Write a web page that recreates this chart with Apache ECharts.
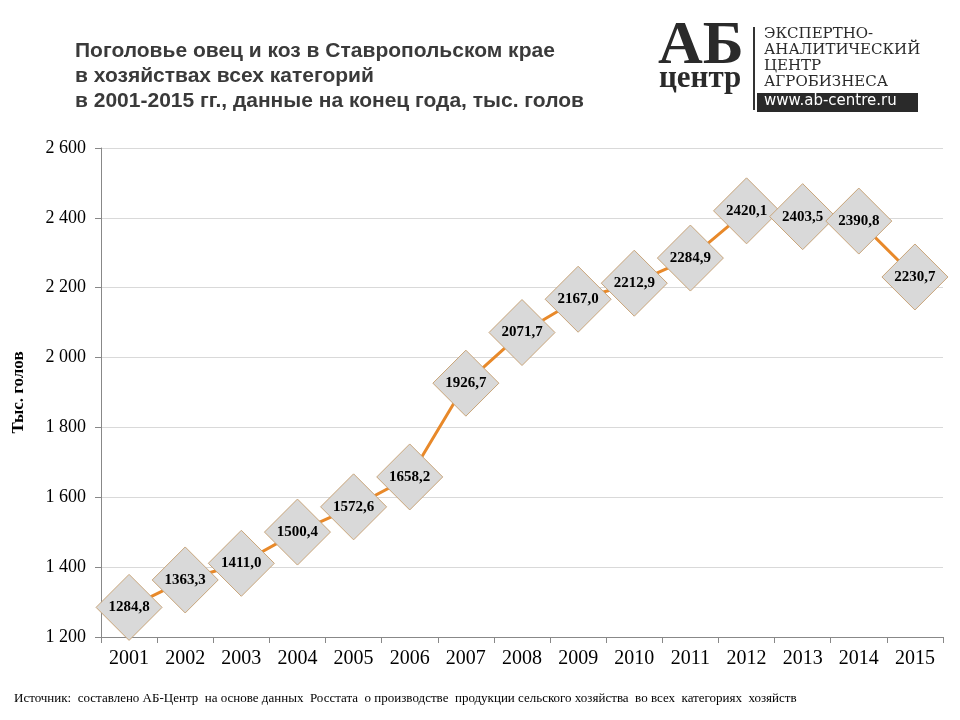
<!DOCTYPE html>
<html><head><meta charset="utf-8">
<script src="https://cdn.jsdelivr.net/npm/echarts@6/dist/echarts.min.js"></script>
<style>html,body{margin:0;padding:0;background:#fff}#c{width:960px;height:720px}</style>
</head><body><div id="c"></div>
<script>
const years = ['2001','2002','2003','2004','2005','2006','2007','2008','2009','2010','2011','2012','2013','2014','2015'];
const values = [1284.8,1363.3,1411.0,1500.4,1572.6,1658.2,1926.7,2071.7,2167.0,2212.9,2284.9,2420.1,2403.5,2390.8,2230.7];
const titleLines = ['Поголовье овец и коз в Ставропольском крае','в хозяйствах всех категорий','в 2001-2015 гг., данные на конец года, тыс. голов'];
const yName = 'Тыс. голов';
const source = 'Источник:  составлено АБ-Центр  на основе данных  Росстата  о производстве  продукции сельского хозяйства  во всех  категориях  хозяйств';

const chart = echarts.init(document.getElementById('c'));
const serif = '"Liberation Serif","DejaVu Serif",serif';
chart.setOption({
  animation:false,
  backgroundColor:'#fff',
  graphic:[
    {type:'text',left:75,top:39,style:{text:titleLines.join('\n'),font:'bold 21px "Liberation Sans",Arial,sans-serif',fill:'#3a3a3a',lineHeight:25}},
    {type:'text',left:14,top:692,style:{text:source,font:'13px '+serif,fill:'#000'}},
    // logo
    {type:'text',left:658,top:16,style:{text:'АБ',font:'bold 62px '+serif,fill:'#2a2a2a'}},
    {type:'text',left:659,top:63,style:{text:'центр',font:'bold 31px '+serif,fill:'#2a2a2a'}},
    {type:'rect',shape:{x:753,y:27,width:2,height:83},style:{fill:'#333'}},
    {type:'text',left:764,top:26,style:{text:'ЭКСПЕРТНО-\nАНАЛИТИЧЕСКИЙ\nЦЕНТР\nАГРОБИЗНЕСА',font:'15px "DejaVu Serif",serif',fill:'#2a2a2a',lineHeight:16}},
    {type:'rect',shape:{x:757,y:93,width:161,height:19},style:{fill:'#2a2a2a'}},
    {type:'text',left:764,top:94,style:{text:'www.ab-centre.ru',font:'15px "DejaVu Sans",sans-serif',fill:'#fff'}}
  ],
  grid:{left:101,right:17,top:148,bottom:83,containLabel:false},
  xAxis:{type:'category',data:years,boundaryGap:true,
    axisLine:{lineStyle:{color:'#888'}},
    axisTick:{show:true,length:6,lineStyle:{color:'#888'}},
    axisLabel:{color:'#000',fontFamily:serif,fontSize:20,margin:12}},
  yAxis:{type:'value',min:1200,max:2600,interval:200,
    name:yName,nameLocation:'middle',nameGap:74,nameRotate:90,
    nameTextStyle:{fontFamily:serif,fontSize:17,color:'#000',fontWeight:'bold'},
    axisLine:{show:true,lineStyle:{color:'#888'}},
    axisTick:{show:true,length:6,lineStyle:{color:'#888'}},
    splitLine:{lineStyle:{color:'#d9d9d9'}},
    axisLabel:{color:'#000',fontFamily:serif,fontSize:18,margin:15,
      formatter:v=>String(v).replace(/\B(?=(\d{3})+(?!\d))/g,' ')}},
  series:[{type:'line',data:values,
    lineStyle:{color:'#E8892A',width:3},
    symbol:'diamond',symbolSize:[66,66],
    itemStyle:{color:'#D9D9D9',borderColor:'#C9A57A',borderWidth:1},
    label:{show:true,position:'inside',fontFamily:serif,fontWeight:'bold',fontSize:15,color:'#000',
      formatter:p=>p.value.toFixed(1).replace('.',',')},
    z:3}]
});
</script></body></html>
